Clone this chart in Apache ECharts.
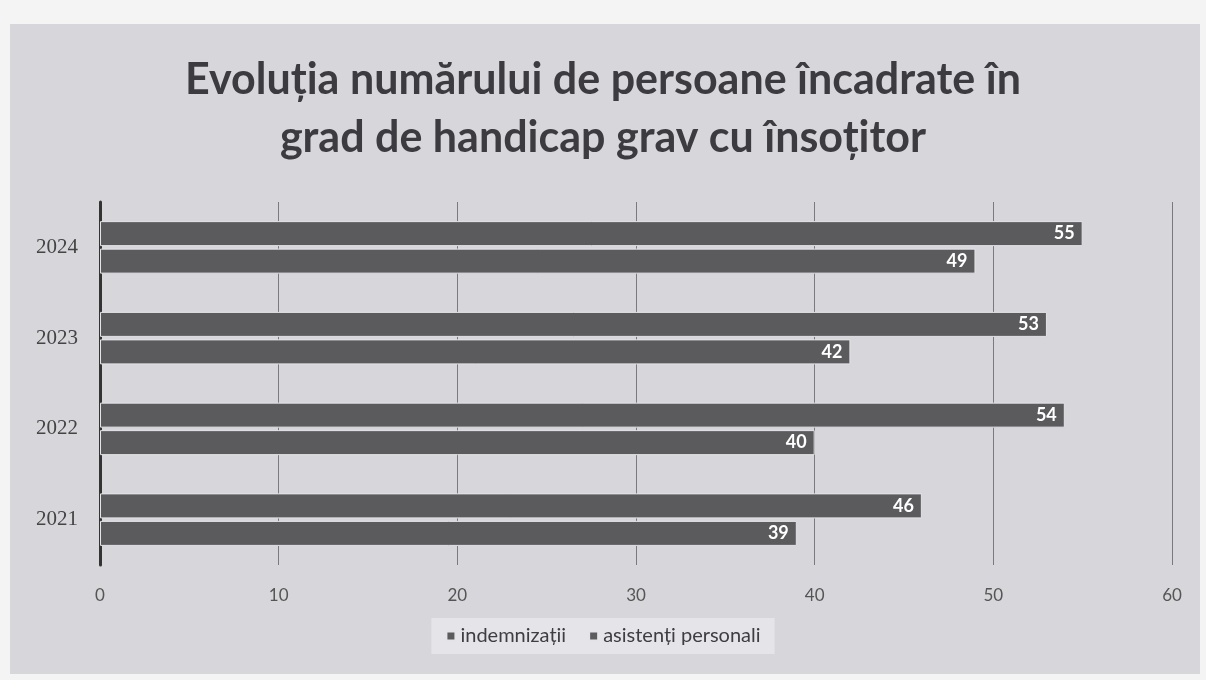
<!DOCTYPE html>
<html>
<head>
<meta charset="utf-8">
<style>
  html, body { margin: 0; padding: 0; background: #f4f4f4; }
  #chart { width: 1206px; height: 680px; }
</style>
<script src="https://cdn.jsdelivr.net/npm/echarts@6/dist/echarts.min.js"></script>
</head>
<body>
<div id="chart"></div>
<script>
// date
var years = ['2021', '2022', '2023', '2024'];
var indemnizatii = [46, 54, 53, 55];
var asistenti = [39, 40, 42, 49];
var xTicks = [0, 10, 20, 30, 40, 50, 60];

var chart = echarts.init(document.getElementById('chart'));

var barStyle = {
    color: '#5b5b5e',
    borderColor: '#e4e4e8',
    borderWidth: 1
};
var labelStyle = {
    show: true,
    position: 'insideRight',
    color: '#ffffff',
    fontFamily: 'Lato',
    fontWeight: 'bold',
    fontSize: 18,
    distance: 8
};

chart.setOption({
    backgroundColor: '#f4f4f4',
    graphic: [{
        type: 'rect',
        z: -10,
        shape: { x: 10, y: 24, width: 1190, height: 650 },
        style: { fill: '#d7d7db' }
    }],
    title: {
        text: 'Evoluția numărului de persoane încadrate în\ngrad de handicap grav cu însoțitor',
        left: 'center',
        top: 46,
        textStyle: {
            fontFamily: 'Lato',
            fontWeight: 'bold',
            fontSize: 43,
            lineHeight: 58,
            color: '#3c3c40'
        }
    },
    legend: {
        data: ['indemnizații', 'asistenți personali'],
        bottom: 26,
        left: 'center',
        icon: 'rect',
        itemWidth: 9,
        itemHeight: 9,
        itemGap: 22,
        padding: [8, 14],
        backgroundColor: 'rgba(235,235,240,0.7)',
        textStyle: { fontFamily: 'Lato', fontSize: 20, color: '#3e3e42' }
    },
    grid: { left: 100, right: 34, top: 202, bottom: 115 },
    xAxis: {
        type: 'value',
        min: 0,
        max: 60,
        interval: 10,
        axisLine: { show: false },
        axisTick: { show: false },
        axisLabel: {
            margin: 22,
            fontFamily: 'Lato',
            fontSize: 17,
            color: '#555',
            formatter: function (v) { return xTicks.indexOf(v) >= 0 ? String(v) : ''; }
        },
        splitLine: { lineStyle: { color: '#7a7a7e', width: 1 } }
    },
    yAxis: {
        type: 'category',
        data: years,
        axisLine: { lineStyle: { color: '#333', width: 3 } },
        axisTick: { show: false },
        axisLabel: {
            margin: 22,
            fontFamily: 'Liberation Serif',
            fontSize: 21,
            color: '#444'
        }
    },
    series: [{
        name: 'indemnizații',
        type: 'bar',
        data: indemnizatii,
        barWidth: 25,
        barGap: '10%',
        itemStyle: barStyle,
        label: labelStyle
    }, {
        name: 'asistenți personali',
        type: 'bar',
        data: asistenti,
        barWidth: 25,
        barGap: '10%',
        itemStyle: barStyle,
        label: labelStyle
    }]
});
</script>
</body>
</html>
